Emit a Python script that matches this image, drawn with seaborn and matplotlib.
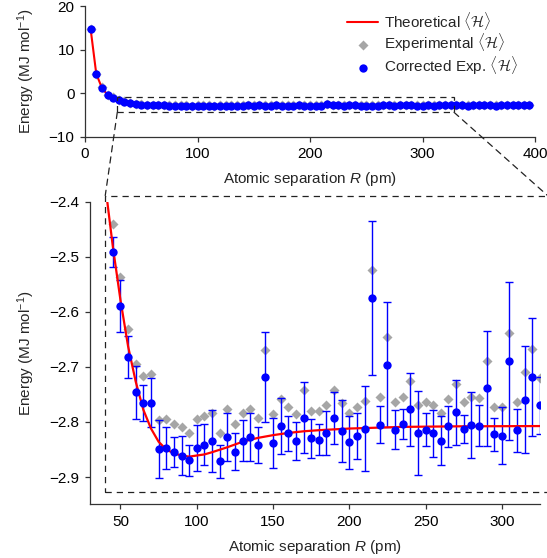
import matplotlib
matplotlib.use("Agg")
import pandas as pd
import matplotlib.pyplot as plt
import seaborn as sns
from matplotlib.patches import Rectangle, ConnectionPatch

# Data
R_near = [5, 10, 15, 20, 25, 30, 35, 40]
corr_near = [14.8, 4.5, 1.3, -0.4, -1.0, -1.5, -1.9, -2.25]
exp_near = [14.85, 4.55, 1.35, -0.35, -0.95, -1.45, -1.85, -2.2]

R_zoom = list(range(45, 330, 5))
corr_zoom = [-2.491, -2.589, -2.682, -2.746, -2.766, -2.765, -2.849, -2.847, -2.855, -2.861,
             -2.870, -2.847, -2.841, -2.835, -2.871, -2.827, -2.854, -2.834, -2.827, -2.842,
             -2.719, -2.838, -2.808, -2.821, -2.835, -2.792, -2.830, -2.832, -2.820, -2.793,
             -2.817, -2.837, -2.825, -2.812, -2.575, -2.805, -2.696, -2.814, -2.804, -2.777,
             -2.820, -2.814, -2.821, -2.834, -2.808, -2.782, -2.813, -2.806, -2.807, -2.739,
             -2.822, -2.825, -2.689, -2.815, -2.760, -2.718, -2.770]
exp_zoom = [-2.441, -2.537, -2.632, -2.694, -2.716, -2.713, -2.796, -2.795, -2.804, -2.810,
            -2.821, -2.795, -2.790, -2.783, -2.820, -2.776, -2.804, -2.784, -2.776, -2.792,
            -2.669, -2.786, -2.758, -2.772, -2.785, -2.742, -2.780, -2.780, -2.769, -2.742,
            -2.766, -2.784, -2.773, -2.762, -2.525, -2.755, -2.646, -2.764, -2.754, -2.726,
            -2.769, -2.764, -2.770, -2.783, -2.758, -2.732, -2.763, -2.755, -2.757, -2.689,
            -2.772, -2.773, -2.638, -2.764, -2.710, -2.668, -2.720]
err_zoom = [0.027, 0.047, 0.038, 0.048, 0.033, 0.045, 0.052, 0.038, 0.027, 0.035,
            0.029, 0.042, 0.038, 0.056, 0.030, 0.044, 0.034, 0.037, 0.044, 0.033,
            0.082, 0.046, 0.051, 0.032, 0.034, 0.064, 0.035, 0.028, 0.040, 0.047,
            0.056, 0.048, 0.042, 0.077, 0.140, 0.034, 0.113, 0.036, 0.027, 0.066,
            0.077, 0.030, 0.043, 0.045, 0.037, 0.059, 0.025, 0.060, 0.037, 0.104,
            0.030, 0.052, 0.144, 0.039, 0.097, 0.107, 0.052]

R_far = [330, 335, 340, 345, 350, 355, 360, 365, 370, 375, 380, 385, 390, 395]
corr_far = [-2.81, -2.80, -2.82, -2.79, -2.81, -2.80, -2.81, -2.82, -2.80, -2.81, -2.79, -2.80, -2.81, -2.80]
exp_far = [-2.76, -2.75, -2.77, -2.74, -2.76, -2.75, -2.76, -2.77, -2.75, -2.76, -2.74, -2.75, -2.76, -2.75]

R_theory = [5, 10, 15, 20, 25, 30, 35, 40, 45, 50, 55, 60, 65, 70, 75, 80, 85, 90, 95, 100,
            105, 110, 120, 130, 140, 150, 160, 170, 180, 200, 235, 270, 325, 395]
E_theory = [14.8, 4.5, 1.25, -0.35, -1.05, -1.6, -2.05, -2.37, -2.482, -2.579, -2.663, -2.727,
            -2.778, -2.812, -2.836, -2.850, -2.857, -2.861, -2.863, -2.861, -2.859, -2.855,
            -2.846, -2.836, -2.829, -2.824, -2.820, -2.817, -2.815, -2.812, -2.809, -2.808,
            -2.8075, -2.807]

all_df = pd.DataFrame({"R": R_near + R_zoom + R_far,
                       "corr": corr_near + corr_zoom + corr_far,
                       "exp": exp_near + exp_zoom + exp_far})
zoom_df = pd.DataFrame({"R": R_zoom, "corr": corr_zoom, "exp": exp_zoom, "err": err_zoom})
th_df = pd.DataFrame({"R": R_theory, "E": E_theory})

sns.set_style("ticks")
plt.rcParams["font.family"] = ["Liberation Sans", "DejaVu Sans"]
plt.rcParams["mathtext.fontset"] = "custom"
plt.rcParams["mathtext.rm"] = "Liberation Sans"
plt.rcParams["mathtext.it"] = "Liberation Sans:italic"
plt.rcParams["mathtext.cal"] = "cmsy10"
plt.rcParams["font.size"] = 11
plt.rcParams["axes.linewidth"] = 0.9
plt.rcParams["axes.edgecolor"] = "#333333"
for a in ["x", "y"]:
    plt.rcParams[a + "tick.major.size"] = 3.6
    plt.rcParams[a + "tick.major.width"] = 0.9
    plt.rcParams[a + "tick.major.pad"] = 4
    plt.rcParams[a + "tick.labelsize"] = 11
    plt.rcParams[a + "tick.color"] = "#333333"
    plt.rcParams[a + "tick.labelcolor"] = "black"

H = r"$\langle\mathcal{H}\rangle$"
dash = (0, (5, 4))
blue = "#0000ff"
grey = "#a6a6a6"

fig = plt.figure(figsize=(5.47, 5.58), dpi=100)
ax1 = fig.add_axes([0.1554, 0.755, 0.8227, 0.2334])
ax2 = fig.add_axes([0.1645, 0.0968, 0.8227, 0.5418])

# top panel
sns.lineplot(data=th_df, x="R", y="E", color="red", lw=1.5, ax=ax1, zorder=3,
             label="Theoretical " + H)
sns.scatterplot(data=all_df, x="R", y="exp", marker="D", s=26, color=grey, linewidth=0,
                ax=ax1, zorder=2, label="Experimental " + H)
sns.scatterplot(data=all_df, x="R", y="corr", marker="o", s=36, color=blue, linewidth=0,
                ax=ax1, zorder=4, label="Corrected Exp. " + H)
ax1.add_patch(Rectangle((28.7, -4.38), 328 - 28.7, 3.46, fill=False, ec="#222222",
                        lw=0.9, ls=dash, zorder=5))
ax1.set_xlim(0, 400)
ax1.set_ylim(-10, 20)
ax1.set_xticks([0, 100, 200, 300, 400])
ax1.set_yticks([-10, 0, 10, 20])
ax1.set_xlabel("Atomic separation $R$ (pm)", labelpad=6)
ax1.set_ylabel("Energy (MJ mol$^{-1}$)")
ax1.yaxis.set_label_coords(-0.107, 0.5)
ax1.legend(loc="upper left", bbox_to_anchor=(0.583, 0.97), frameon=False, borderpad=0,
           borderaxespad=0, handlelength=2.0, handletextpad=0.4, labelspacing=0.0,
           fontsize=11)
sns.despine(ax=ax1)

# bottom panel
ax2.scatter(zoom_df["R"], zoom_df["exp"], marker="D", s=26, color=grey, lw=0, zorder=1)
ax2.errorbar(zoom_df["R"], zoom_df["corr"], yerr=zoom_df["err"], fmt="none", ecolor=blue,
             elinewidth=1.0, capsize=3.2, capthick=1.0, zorder=2)
sns.lineplot(data=th_df, x="R", y="E", color="red", lw=1.6, ax=ax2, zorder=3)
sns.scatterplot(data=zoom_df, x="R", y="corr", marker="o", s=36, color=blue, linewidth=0,
                ax=ax2, zorder=4)
ax2.add_patch(Rectangle((40, -2.927), 330 - 40, 0.538, fill=False, ec="#222222",
                        lw=0.9, ls=dash, clip_on=False, zorder=5))
ax2.set_xlim(30, 325)
ax2.set_ylim(-2.949, -2.4)
ax2.set_xticks([50, 100, 150, 200, 250, 300])
ax2.set_yticks([-2.4, -2.5, -2.6, -2.7, -2.8, -2.9])
ax2.set_xlabel("Atomic separation $R$ (pm)", labelpad=7)
ax2.set_ylabel("Energy (MJ mol$^{-1}$)")
ax2.yaxis.set_label_coords(-0.117, 0.5)
sns.despine(ax=ax2)

for xa, xb in [(28.7, 40), (328, 330)]:
    con = ConnectionPatch(xyA=(xa, -4.38), coordsA=ax1.transData,
                          xyB=(xb, -2.389), coordsB=ax2.transData,
                          color="#222222", lw=0.9, ls=dash)
    fig.add_artist(con)

fig.savefig("out.png", dpi=100)
